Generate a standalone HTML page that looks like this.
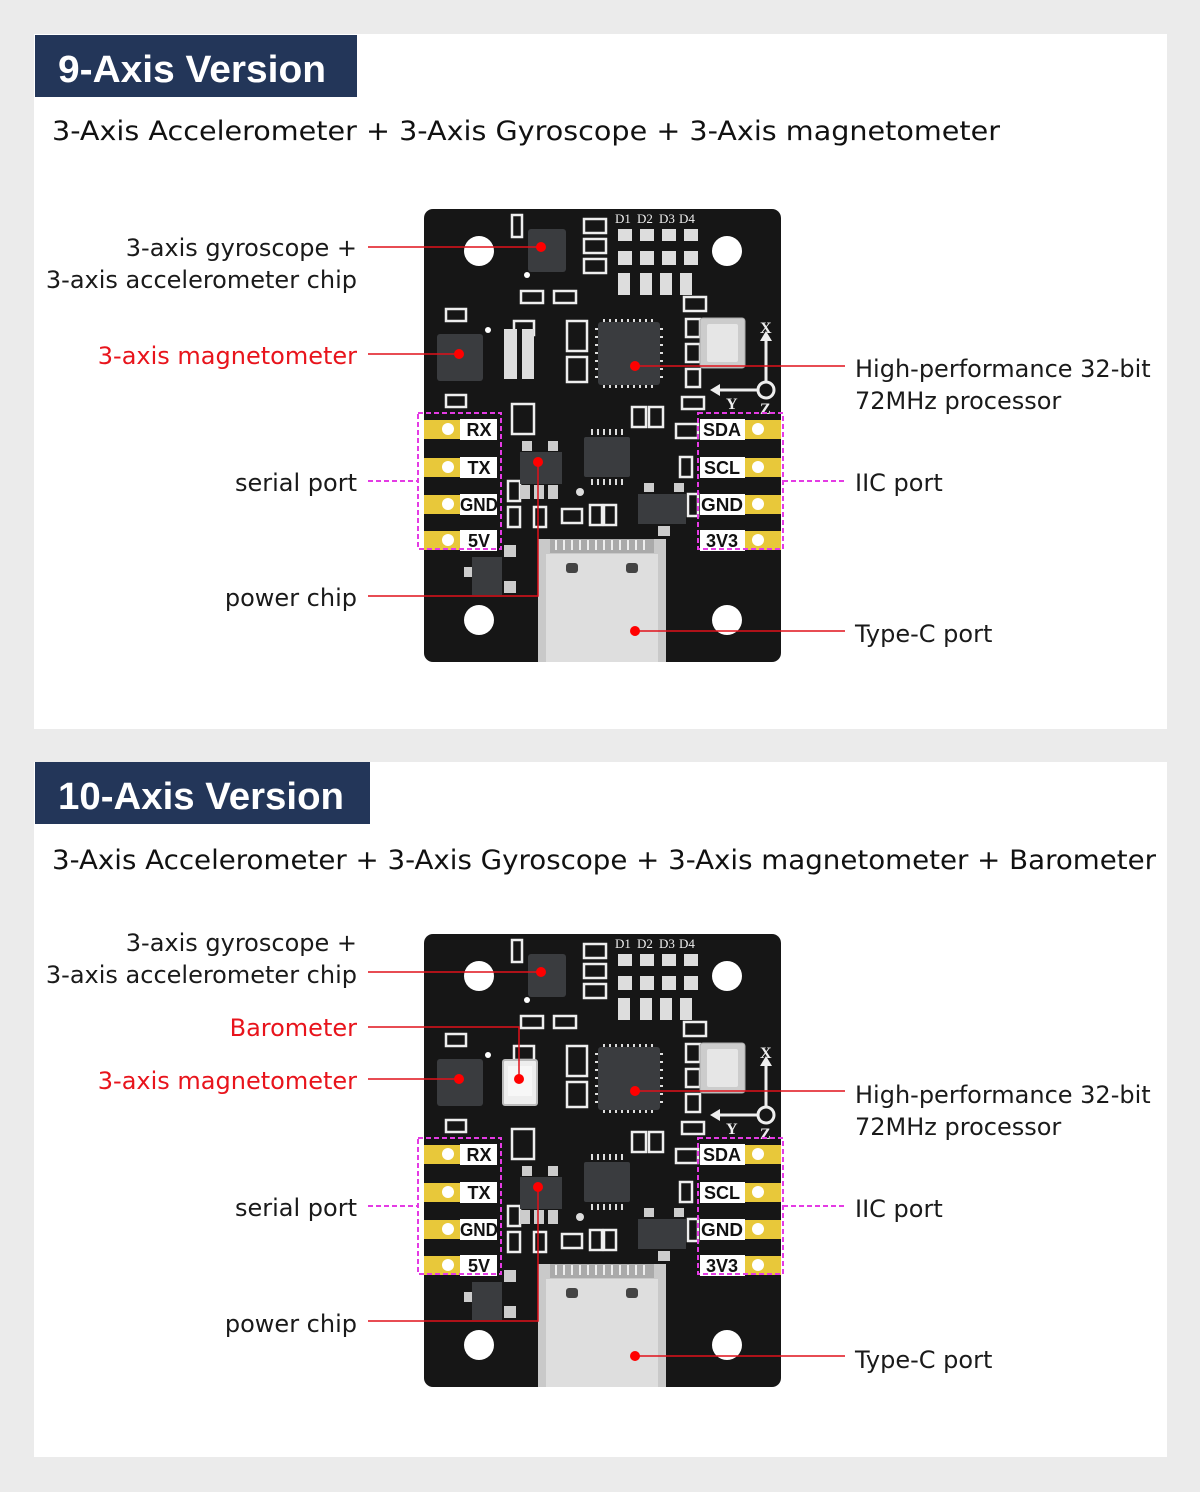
<!DOCTYPE html>
<html><head><meta charset="utf-8"><style>
html,body{margin:0;padding:0;background:#ebebeb;}
body{width:1200px;height:1492px;position:relative;overflow:hidden;font-family:"Liberation Sans","DejaVu Sans",sans-serif;}
</style></head><body>
<svg width="1200" height="1492" viewBox="0 0 1200 1492" xmlns="http://www.w3.org/2000/svg" style="position:absolute;left:0;top:0">
<rect x="0" y="0" width="1200" height="1492" fill="#ebebeb"/>
<rect x="34" y="34" width="1133" height="695" fill="#fff"/>
<rect x="34" y="762" width="1133" height="695" fill="#fff"/>
<rect x="35" y="35" width="322" height="62" fill="#233659"/>
<rect x="35" y="762" width="335" height="62" fill="#233659"/>
<g font-family="'Liberation Sans','DejaVu Sans',sans-serif" fill="#fff" font-weight="bold" font-size="38">
<text x="58" y="82" textLength="268" lengthAdjust="spacingAndGlyphs">9-Axis Version</text>
<text x="58" y="809" textLength="286" lengthAdjust="spacingAndGlyphs">10-Axis Version</text>
</g>
<g font-family="'DejaVu Sans','Liberation Sans',sans-serif" fill="#111" font-size="27">
<text x="52" y="140" textLength="948" lengthAdjust="spacingAndGlyphs">3-Axis Accelerometer + 3-Axis Gyroscope + 3-Axis magnetometer</text>
<text x="52" y="869" textLength="1104" lengthAdjust="spacingAndGlyphs">3-Axis Accelerometer + 3-Axis Gyroscope + 3-Axis magnetometer + Barometer</text>
</g>

<!-- BOARD 1 -->
<g transform="translate(424,209)">
<rect x="0" y="0" width="357" height="453" rx="9" fill="#161616"/>
<g fill="#fff"><circle cx="55" cy="42" r="15"/><circle cx="303" cy="42" r="15"/><circle cx="55" cy="411" r="15"/><circle cx="303" cy="411" r="15"/></g>
<g fill="none" stroke="#eee" stroke-width="2.5">
<rect x="88" y="6" width="10" height="22"/>
<rect x="160" y="10" width="22" height="14"/><rect x="160" y="30" width="22" height="14"/><rect x="160" y="50" width="22" height="14"/>
<rect x="97" y="82" width="22" height="12"/><rect x="130" y="82" width="22" height="12"/>
<rect x="22" y="100" width="20" height="12"/><rect x="22" y="186" width="20" height="12"/>
<rect x="90" y="112" width="20" height="14"/><rect x="143" y="112" width="20" height="30"/><rect x="143" y="148" width="20" height="25"/>
<rect x="260" y="88" width="22" height="14"/>
<rect x="262" y="110" width="14" height="18"/><rect x="262" y="135" width="14" height="18"/><rect x="262" y="160" width="14" height="18"/>
<rect x="258" y="188" width="22" height="12"/>
<rect x="88" y="195" width="22" height="30"/>
<rect x="208" y="198" width="14" height="20"/><rect x="225" y="198" width="14" height="20"/>
<rect x="252" y="215" width="22" height="14"/><rect x="256" y="248" width="12" height="20"/>
<rect x="84" y="272" width="12" height="20"/><rect x="84" y="298" width="12" height="20"/>
<rect x="110" y="298" width="12" height="20"/><rect x="138" y="300" width="20" height="14"/>
<rect x="166" y="296" width="12" height="20"/><rect x="180" y="296" width="12" height="20"/>
<rect x="264" y="285" width="10" height="22"/>
</g>
<g font-family="'Liberation Serif',serif" font-size="13" fill="#eee"><text x="191" y="14">D1</text><text x="213" y="14">D2</text><text x="235" y="14">D3</text><text x="255" y="14">D4</text></g>
<g fill="#ddd"><rect x="194" y="20" width="14" height="12"/><rect x="216" y="20" width="14" height="12"/><rect x="238" y="20" width="14" height="12"/><rect x="260" y="20" width="14" height="12"/>
<rect x="194" y="42" width="14" height="14"/><rect x="216" y="42" width="14" height="14"/><rect x="238" y="42" width="14" height="14"/><rect x="260" y="42" width="14" height="14"/>
<rect x="194" y="64" width="12" height="22"/><rect x="216" y="64" width="12" height="22"/><rect x="236" y="64" width="12" height="22"/><rect x="256" y="64" width="12" height="22"/></g>
<rect x="104" y="20" width="38" height="43" rx="3" fill="#3a3c3f"/>
<circle cx="103" cy="66" r="3" fill="#fff"/>
<rect x="13" y="125" width="46" height="47" rx="3" fill="#3a3c3f"/>
<circle cx="64" cy="121" r="3" fill="#fff"/>
<rect x="80" y="120" width="30" height="50" fill="#ddd"/><rect x="93" y="120" width="5" height="50" fill="#161616"/>
<rect x="174" y="113" width="62" height="63" rx="3" fill="#3a3c3f"/>
<g stroke="#ddd" stroke-width="2"><path d="M180 110v3M186 110v3M192 110v3M198 110v3M204 110v3M210 110v3M216 110v3M222 110v3M228 110v3M180 176v3M186 176v3M192 176v3M198 176v3M204 176v3M210 176v3M216 176v3M222 176v3M228 176v3M171 120h3M171 128h3M171 136h3M171 144h3M171 152h3M171 160h3M171 168h3M236 120h3M236 128h3M236 136h3M236 144h3M236 152h3M236 160h3M236 168h3"/></g>
<rect x="276" y="109" width="45" height="50" rx="3" fill="#ccc" stroke="#aaa"/>
<rect x="283" y="115" width="31" height="38" rx="2" fill="#e6e6e6"/>
<rect x="160" y="228" width="46" height="40" rx="2" fill="#3a3c3f"/>
<g stroke="#ddd" stroke-width="2"><path d="M168 220v6M174 220v6M180 220v6M186 220v6M192 220v6M198 220v6M168 270v6M174 270v6M180 270v6M186 270v6M192 270v6M198 270v6"/></g>
<circle cx="156" cy="283" r="4" fill="#ddd"/>
<rect x="96" y="243" width="42" height="32" fill="#3a3c3f"/>
<g fill="#ccc"><rect x="98" y="232" width="10" height="10"/><rect x="124" y="232" width="10" height="10"/><rect x="96" y="276" width="10" height="14"/><rect x="110" y="276" width="10" height="14"/><rect x="124" y="276" width="10" height="14"/></g>
<rect x="214" y="285" width="48" height="30" fill="#3a3c3f"/>
<g fill="#ccc"><rect x="220" y="274" width="10" height="9"/><rect x="250" y="274" width="10" height="9"/><rect x="234" y="317" width="12" height="10"/></g>
<rect x="48" y="348" width="30" height="38" fill="#3a3c3f"/>
<g fill="#ccc"><rect x="80" y="336" width="12" height="12"/><rect x="80" y="372" width="12" height="12"/><rect x="40" y="358" width="8" height="10"/></g>
<g stroke="#eee" stroke-width="3" fill="none"><path d="M342 174V128"/><path d="M334 181H292"/><circle cx="342" cy="181" r="8"/></g>
<g fill="#eee"><path d="M336 132l6-10 6 10z"/><path d="M296 175l-10 6 10 6z"/></g>
<g font-family="'Liberation Serif',serif" font-weight="bold" font-size="16" fill="#eee"><text x="336" y="124">X</text><text x="302" y="200">Y</text><text x="336" y="205">Z</text></g>
<g fill="#e8c83a"><rect x="0" y="211" width="36" height="19"/><rect x="0" y="249" width="36" height="19"/><rect x="0" y="286" width="36" height="19"/><rect x="0" y="322" width="36" height="19"/>
<rect x="321" y="211" width="36" height="19"/><rect x="321" y="249" width="36" height="19"/><rect x="321" y="286" width="36" height="19"/><rect x="321" y="322" width="36" height="19"/></g>
<g fill="#fff"><circle cx="24" cy="220" r="6"/><circle cx="24" cy="258" r="6"/><circle cx="24" cy="295" r="6"/><circle cx="24" cy="331" r="6"/>
<circle cx="334" cy="220" r="6"/><circle cx="334" cy="258" r="6"/><circle cx="334" cy="295" r="6"/><circle cx="334" cy="331" r="6"/>
<rect x="36" y="210" width="37" height="21"/><rect x="36" y="248" width="37" height="21"/><rect x="36" y="285" width="37" height="21"/><rect x="36" y="321" width="37" height="21"/>
<rect x="276" y="210" width="45" height="21"/><rect x="276" y="248" width="45" height="21"/><rect x="276" y="285" width="45" height="21"/><rect x="276" y="321" width="45" height="21"/></g>
<g font-family="'Liberation Sans',sans-serif" font-weight="bold" font-size="18" fill="#111" text-anchor="middle">
<text x="55" y="227">RX</text><text x="55" y="265">TX</text><text x="55" y="302" textLength="38" lengthAdjust="spacingAndGlyphs">GND</text><text x="55" y="338">5V</text>
<text x="298" y="227">SDA</text><text x="298" y="265">SCL</text><text x="298" y="302" textLength="42" lengthAdjust="spacingAndGlyphs">GND</text><text x="298" y="338">3V3</text></g>
<rect x="114" y="330" width="128" height="123" fill="#c9c9c9"/>
<rect x="122" y="345" width="112" height="108" fill="#dedede"/>
<rect x="126" y="330" width="104" height="14" fill="#aaa"/>
<g stroke="#eee" stroke-width="2"><path d="M132 331v10M140 331v10M148 331v10M156 331v10M164 331v10M172 331v10M180 331v10M188 331v10M196 331v10M204 331v10M212 331v10M220 331v10"/></g>
<rect x="142" y="354" width="12" height="10" rx="3" fill="#444"/><rect x="202" y="354" width="12" height="10" rx="3" fill="#444"/>
<g fill="none" stroke="#e43be4" stroke-width="2" stroke-dasharray="5,3"><rect x="-6" y="204" width="83" height="136"/><rect x="274" y="204" width="85" height="136"/></g>
</g>

<!-- BOARD 2 -->
<g transform="translate(424,934)">
<rect x="0" y="0" width="357" height="453" rx="9" fill="#161616"/>
<g fill="#fff"><circle cx="55" cy="42" r="15"/><circle cx="303" cy="42" r="15"/><circle cx="55" cy="411" r="15"/><circle cx="303" cy="411" r="15"/></g>
<g fill="none" stroke="#eee" stroke-width="2.5">
<rect x="88" y="6" width="10" height="22"/>
<rect x="160" y="10" width="22" height="14"/><rect x="160" y="30" width="22" height="14"/><rect x="160" y="50" width="22" height="14"/>
<rect x="97" y="82" width="22" height="12"/><rect x="130" y="82" width="22" height="12"/>
<rect x="22" y="100" width="20" height="12"/><rect x="22" y="186" width="20" height="12"/>
<rect x="90" y="112" width="20" height="14"/><rect x="143" y="112" width="20" height="30"/><rect x="143" y="148" width="20" height="25"/>
<rect x="260" y="88" width="22" height="14"/>
<rect x="262" y="110" width="14" height="18"/><rect x="262" y="135" width="14" height="18"/><rect x="262" y="160" width="14" height="18"/>
<rect x="258" y="188" width="22" height="12"/>
<rect x="88" y="195" width="22" height="30"/>
<rect x="208" y="198" width="14" height="20"/><rect x="225" y="198" width="14" height="20"/>
<rect x="252" y="215" width="22" height="14"/><rect x="256" y="248" width="12" height="20"/>
<rect x="84" y="272" width="12" height="20"/><rect x="84" y="298" width="12" height="20"/>
<rect x="110" y="298" width="12" height="20"/><rect x="138" y="300" width="20" height="14"/>
<rect x="166" y="296" width="12" height="20"/><rect x="180" y="296" width="12" height="20"/>
<rect x="264" y="285" width="10" height="22"/>
</g>
<g font-family="'Liberation Serif',serif" font-size="13" fill="#eee"><text x="191" y="14">D1</text><text x="213" y="14">D2</text><text x="235" y="14">D3</text><text x="255" y="14">D4</text></g>
<g fill="#ddd"><rect x="194" y="20" width="14" height="12"/><rect x="216" y="20" width="14" height="12"/><rect x="238" y="20" width="14" height="12"/><rect x="260" y="20" width="14" height="12"/>
<rect x="194" y="42" width="14" height="14"/><rect x="216" y="42" width="14" height="14"/><rect x="238" y="42" width="14" height="14"/><rect x="260" y="42" width="14" height="14"/>
<rect x="194" y="64" width="12" height="22"/><rect x="216" y="64" width="12" height="22"/><rect x="236" y="64" width="12" height="22"/><rect x="256" y="64" width="12" height="22"/></g>
<rect x="104" y="20" width="38" height="43" rx="3" fill="#3a3c3f"/>
<circle cx="103" cy="66" r="3" fill="#fff"/>
<rect x="13" y="125" width="46" height="47" rx="3" fill="#3a3c3f"/>
<circle cx="64" cy="121" r="3" fill="#fff"/>
<rect x="79" y="126" width="34" height="45" rx="2" fill="#eee" stroke="#bbb" stroke-width="2"/>
<rect x="84" y="132" width="24" height="30" fill="#f7f7f7"/>
<rect x="174" y="113" width="62" height="63" rx="3" fill="#3a3c3f"/>
<g stroke="#ddd" stroke-width="2"><path d="M180 110v3M186 110v3M192 110v3M198 110v3M204 110v3M210 110v3M216 110v3M222 110v3M228 110v3M180 176v3M186 176v3M192 176v3M198 176v3M204 176v3M210 176v3M216 176v3M222 176v3M228 176v3M171 120h3M171 128h3M171 136h3M171 144h3M171 152h3M171 160h3M171 168h3M236 120h3M236 128h3M236 136h3M236 144h3M236 152h3M236 160h3M236 168h3"/></g>
<rect x="276" y="109" width="45" height="50" rx="3" fill="#ccc" stroke="#aaa"/>
<rect x="283" y="115" width="31" height="38" rx="2" fill="#e6e6e6"/>
<rect x="160" y="228" width="46" height="40" rx="2" fill="#3a3c3f"/>
<g stroke="#ddd" stroke-width="2"><path d="M168 220v6M174 220v6M180 220v6M186 220v6M192 220v6M198 220v6M168 270v6M174 270v6M180 270v6M186 270v6M192 270v6M198 270v6"/></g>
<circle cx="156" cy="283" r="4" fill="#ddd"/>
<rect x="96" y="243" width="42" height="32" fill="#3a3c3f"/>
<g fill="#ccc"><rect x="98" y="232" width="10" height="10"/><rect x="124" y="232" width="10" height="10"/><rect x="96" y="276" width="10" height="14"/><rect x="110" y="276" width="10" height="14"/><rect x="124" y="276" width="10" height="14"/></g>
<rect x="214" y="285" width="48" height="30" fill="#3a3c3f"/>
<g fill="#ccc"><rect x="220" y="274" width="10" height="9"/><rect x="250" y="274" width="10" height="9"/><rect x="234" y="317" width="12" height="10"/></g>
<rect x="48" y="348" width="30" height="38" fill="#3a3c3f"/>
<g fill="#ccc"><rect x="80" y="336" width="12" height="12"/><rect x="80" y="372" width="12" height="12"/><rect x="40" y="358" width="8" height="10"/></g>
<g stroke="#eee" stroke-width="3" fill="none"><path d="M342 174V128"/><path d="M334 181H292"/><circle cx="342" cy="181" r="8"/></g>
<g fill="#eee"><path d="M336 132l6-10 6 10z"/><path d="M296 175l-10 6 10 6z"/></g>
<g font-family="'Liberation Serif',serif" font-weight="bold" font-size="16" fill="#eee"><text x="336" y="124">X</text><text x="302" y="200">Y</text><text x="336" y="205">Z</text></g>
<g fill="#e8c83a"><rect x="0" y="211" width="36" height="19"/><rect x="0" y="249" width="36" height="19"/><rect x="0" y="286" width="36" height="19"/><rect x="0" y="322" width="36" height="19"/>
<rect x="321" y="211" width="36" height="19"/><rect x="321" y="249" width="36" height="19"/><rect x="321" y="286" width="36" height="19"/><rect x="321" y="322" width="36" height="19"/></g>
<g fill="#fff"><circle cx="24" cy="220" r="6"/><circle cx="24" cy="258" r="6"/><circle cx="24" cy="295" r="6"/><circle cx="24" cy="331" r="6"/>
<circle cx="334" cy="220" r="6"/><circle cx="334" cy="258" r="6"/><circle cx="334" cy="295" r="6"/><circle cx="334" cy="331" r="6"/>
<rect x="36" y="210" width="37" height="21"/><rect x="36" y="248" width="37" height="21"/><rect x="36" y="285" width="37" height="21"/><rect x="36" y="321" width="37" height="21"/>
<rect x="276" y="210" width="45" height="21"/><rect x="276" y="248" width="45" height="21"/><rect x="276" y="285" width="45" height="21"/><rect x="276" y="321" width="45" height="21"/></g>
<g font-family="'Liberation Sans',sans-serif" font-weight="bold" font-size="18" fill="#111" text-anchor="middle">
<text x="55" y="227">RX</text><text x="55" y="265">TX</text><text x="55" y="302" textLength="38" lengthAdjust="spacingAndGlyphs">GND</text><text x="55" y="338">5V</text>
<text x="298" y="227">SDA</text><text x="298" y="265">SCL</text><text x="298" y="302" textLength="42" lengthAdjust="spacingAndGlyphs">GND</text><text x="298" y="338">3V3</text></g>
<rect x="114" y="330" width="128" height="123" fill="#c9c9c9"/>
<rect x="122" y="345" width="112" height="108" fill="#dedede"/>
<rect x="126" y="330" width="104" height="14" fill="#aaa"/>
<g stroke="#eee" stroke-width="2"><path d="M132 331v10M140 331v10M148 331v10M156 331v10M164 331v10M172 331v10M180 331v10M188 331v10M196 331v10M204 331v10M212 331v10M220 331v10"/></g>
<rect x="142" y="354" width="12" height="10" rx="3" fill="#444"/><rect x="202" y="354" width="12" height="10" rx="3" fill="#444"/>
<g fill="none" stroke="#e43be4" stroke-width="2" stroke-dasharray="5,3"><rect x="-6" y="204" width="83" height="136"/><rect x="274" y="204" width="85" height="136"/></g>
</g>

<g stroke="#e0101a" stroke-width="1.5" fill="none">
<path d="M368 247H541"/><path d="M368 354H459"/><path d="M635 366H845"/>
<path d="M368 596H538V462"/><path d="M635 631H845"/>
</g>
<g fill="#f00"><circle cx="541" cy="247" r="5"/><circle cx="459" cy="354" r="5"/><circle cx="635" cy="366" r="5"/><circle cx="538" cy="462" r="5"/><circle cx="635" cy="631" r="5"/></g>
<g stroke="#e43be4" stroke-width="2" stroke-dasharray="5,3" fill="none"><path d="M368 481H418"/><path d="M783 481H845"/></g>
<g stroke="#e0101a" stroke-width="1.5" fill="none">
<path d="M368 972H541"/><path d="M368 1027H519V1079"/><path d="M368 1079H459"/><path d="M635 1091H845"/>
<path d="M368 1321H538V1187"/><path d="M635 1356H845"/>
</g>
<g fill="#f00"><circle cx="541" cy="972" r="5"/><circle cx="519" cy="1079" r="5"/><circle cx="459" cy="1079" r="5"/><circle cx="635" cy="1091" r="5"/><circle cx="538" cy="1187" r="5"/><circle cx="635" cy="1356" r="5"/></g>
<g stroke="#e43be4" stroke-width="2" stroke-dasharray="5,3" fill="none"><path d="M368 1206H418"/><path d="M783 1206H845"/></g>

<g font-family="'DejaVu Sans','Liberation Sans',sans-serif" font-size="24" fill="#1a1a1a">
<text x="357" y="256" text-anchor="end">3-axis gyroscope +</text>
<text x="357" y="288" text-anchor="end">3-axis accelerometer chip</text>
<text x="357" y="364" text-anchor="end" fill="#e8141c">3-axis magnetometer</text>
<text x="357" y="491" text-anchor="end">serial port</text>
<text x="357" y="606" text-anchor="end">power chip</text>
<text x="855" y="377">High-performance 32-bit</text>
<text x="855" y="409">72MHz processor</text>
<text x="855" y="491">IIC port</text>
<text x="855" y="642">Type-C port</text>

<text x="357" y="951" text-anchor="end">3-axis gyroscope +</text>
<text x="357" y="983" text-anchor="end">3-axis accelerometer chip</text>
<text x="357" y="1036" text-anchor="end" fill="#e8141c">Barometer</text>
<text x="357" y="1089" text-anchor="end" fill="#e8141c">3-axis magnetometer</text>
<text x="357" y="1216" text-anchor="end">serial port</text>
<text x="357" y="1332" text-anchor="end">power chip</text>
<text x="855" y="1103">High-performance 32-bit</text>
<text x="855" y="1135">72MHz processor</text>
<text x="855" y="1217">IIC port</text>
<text x="855" y="1368">Type-C port</text>
</g>
</svg>
</body></html>
